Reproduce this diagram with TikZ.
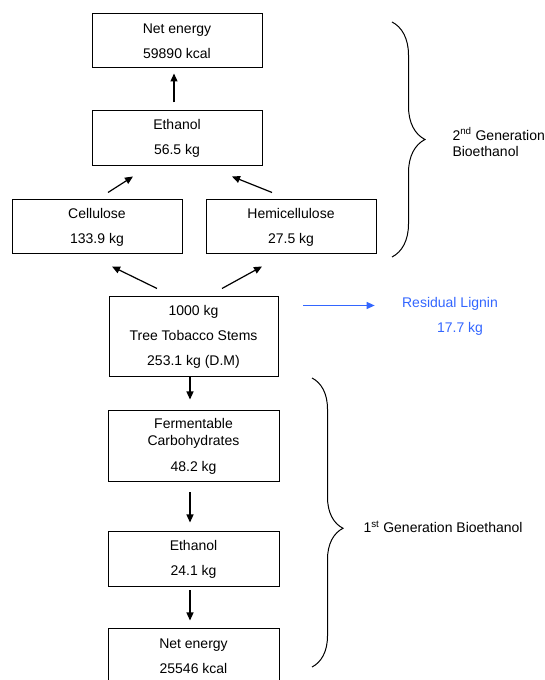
\documentclass[tikz,border=0pt]{standalone}
\usepackage{fontspec}
\setmainfont{Liberation Sans}
\usepackage{tikz}
\usetikzlibrary{arrows.meta}
\usetikzlibrary{decorations.pathreplacing}
\definecolor{ligblue}{RGB}{51,102,255}

\begin{document}
\begin{tikzpicture}[x=1pt,y=1pt,line width=1pt,
          box/.style={draw,rectangle,minimum width=170pt,inner sep=0pt,align=center,
            font=\fontsize{14}{17}\selectfont},
          arr/.style={-{Triangle[length=8pt,width=7pt]},line width=1.2pt},
          brc/.style={decorate,decoration={brace,amplitude=#1}}]
          \useasboundingbox (0,0) rectangle (545,680);
          \node[box,minimum height=54pt] (net2) at (177,639) {Net energy\\[8pt]59890 kcal};
          \node[box,minimum height=55pt] (eth2) at (177,541.5) {Ethanol\\[8pt]56.5 kg};
          \node[box,minimum height=54pt] (cell) at (97,453) {Cellulose\\[8pt]133.9 kg};
          \node[box,minimum height=54pt] (hemi) at (291,453) {Hemicellulose\\[8pt]27.5 kg};
          \node[box,minimum width=169pt,minimum height=80pt] (tree) at (193.5,343) {1000 kg\\[8pt]Tree Tobacco Stems\\[8pt]253.1 kg (D.M)};
          \node[box,minimum width=171pt,minimum height=71pt] (ferm) at (193.5,233.5) {Fermentable\\Carbohydrates\\[9pt]48.2 kg};
          \node[box,minimum width=171pt,minimum height=55pt] (eth1) at (193.5,120.5) {Ethanol\\[8pt]24.1 kg};
          \node[box,minimum width=171pt,minimum height=55pt] (net1) at (193.5,23.5) {Net energy\\[8pt]25546 kcal};
          \node[ligblue,inner sep=0pt,align=center,font=\fontsize{14}{17}\selectfont] (lignin) at (450,363.5) {Residual Lignin\\[8pt]\hspace*{20pt}17.7 kg};
          \coordinate (ligstart) at (303,374.5);
          \draw[arr,shorten <=8pt,shorten >=5pt] ([xshift=-3pt]eth2.north) -- ([xshift=-3pt]net2.south);
          \draw[arr] ([shift={(11,7)}]cell.north) -- ([shift={(-44,-10)}]eth2.south);
          \draw[arr] ([shift={(-19,7)}]hemi.north) -- ([shift={(55,-10)}]eth2.south);
          \draw[arr] ([shift={(-36.5,8)}]tree.north) -- ([shift={(15,-12)}]cell.south);
          \draw[arr] ([shift={(28.5,8)}]tree.north) -- ([shift={(-29,-12)}]hemi.south);
          \draw[arr,ligblue] (ligstart) -- (ligstart -| lignin.west) [shorten >=27pt];
          \draw[arr,shorten >=11pt] ([xshift=-3.5pt]tree.south) -- ([xshift=-3.5pt]ferm.north);
          \draw[arr,shorten <=10pt,shorten >=9pt] ([xshift=-3.5pt]ferm.south) -- ([xshift=-3.5pt]eth1.north);
          \draw[arr,shorten <=3pt,shorten >=8pt] ([xshift=-3.5pt]eth1.south) -- ([xshift=-3.5pt]net1.north);
          \coordinate (b2top) at (392,658);
          \coordinate (b2bot) at (392,423);
          \coordinate (b1top) at (312,302);
          \coordinate (b1bot) at (312,13);
          \draw[brc=33pt] (b2top) -- (b2bot);
          \draw[brc=31pt,decoration={aspect=0.52}] (b1top) -- (b1bot);
          \node[anchor=west,inner sep=0pt,align=left,font=\fontsize{14}{16}\selectfont] (gen2) at (452,538) {2\textsuperscript{nd} Generation\\Bioethanol};
          \node[anchor=west,inner sep=0pt,font=\fontsize{14}{16}\selectfont] (gen1) at (363,153) {1\textsuperscript{st} Generation Bioethanol};
        \end{tikzpicture}
\end{document}
